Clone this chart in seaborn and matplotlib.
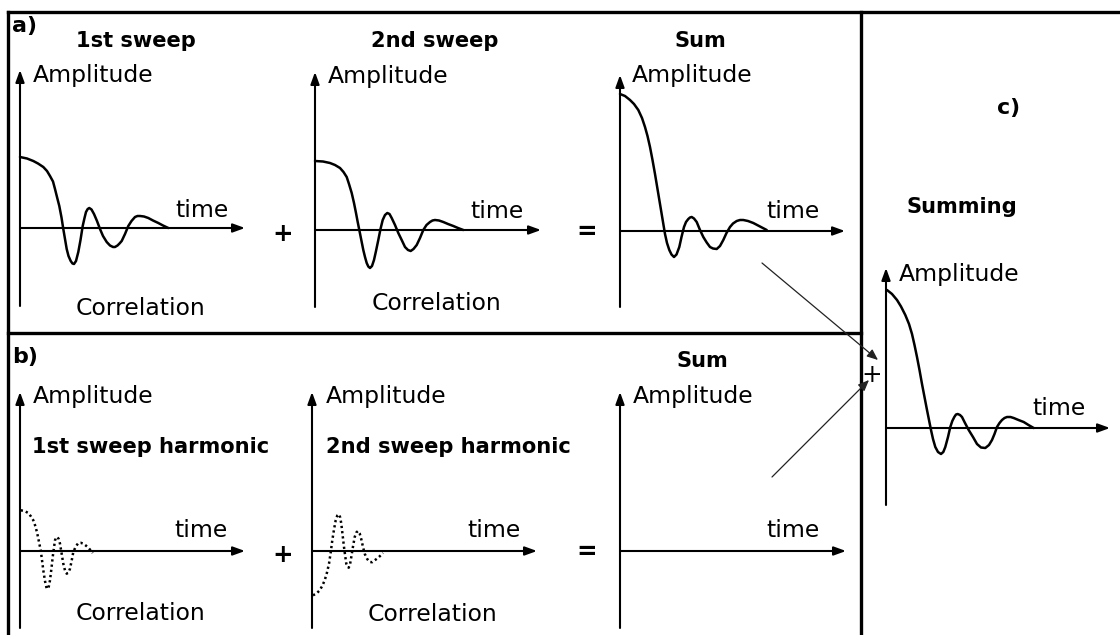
import matplotlib
matplotlib.use("Agg")
import matplotlib.pyplot as plt
import numpy as np
import pandas as pd
import seaborn as sns

# ---------------- data (t = time offset, amp = amplitude) ----
sweep1_t = [0, 7, 13.3, 18, 23.3, 27, 30, 33, 35, 37, 39.3, 41.5, 43.3, 45, 46.7, 48.5, 50.7,
            52.5, 54, 56, 58.3, 60.5, 62.7, 64.5, 66, 67.7, 69.3, 71.5, 74, 77, 80, 83, 86.7,
            90, 93, 95, 97.5, 99.5, 101.7, 105, 108.3, 111.5, 115, 117.5, 120, 124, 128.3,
            133, 138.3, 143, 148.3]
sweep1_amp = [71, 69.5, 67, 64.5, 61, 57, 52, 46.5, 39, 31, 22, 10.5, -1, -11, -21, -28, -33,
              -35.5, -36, -33, -24, -12, 2, 10, 16, 19, 20, 18.5, 14, 7, -1, -8, -14,
              -17.5, -19, -19, -17.5, -15.5, -13, -6, 2, 7, 11, 12, 12, 11.5, 10,
              7.5, 5, 2.5, 0]

sweep2_t = [0, 8, 15, 20, 25, 28.5, 31.7, 34, 36.7, 39, 41, 42.7, 44.3, 46.3, 48.3, 50, 51.7,
            53.3, 55, 57, 59, 61, 63.3, 65.5, 67.7, 70, 72.3, 74.5, 76.7, 80, 83.3, 86.7,
            90, 93, 95.7, 98.5, 101.7, 105, 108.3, 111.5, 115, 117.5, 120, 124, 128.3, 133,
            138.3, 143, 148.3]
sweep2_amp = [69, 68.5, 67, 65, 62, 58, 53, 46, 37, 27, 17, 8, 0, -10, -20, -27, -33,
              -36.5, -38, -36, -30, -21, -10, 1, 10, 15, 17, 16, 12, 5, -3, -10,
              -17, -20, -21, -19, -15, -8, 0, 5, 8, 9.5, 10, 9.5, 8, 6,
              4, 2, 0]

sum_t = [0, 5, 10, 14, 18.3, 22, 25, 27.5, 30, 32.5, 35, 37.5, 40, 42.5, 45, 47, 49.3, 51.5,
         54, 56.5, 59.3, 61.5, 64, 66, 68.3, 70, 71.7, 74, 76.7, 80, 83.3, 86.7, 90, 93,
         96.7, 100, 103.3, 106.5, 110, 113, 116.7, 120, 123.3, 128, 133.3, 140, 146.7]
sum_amp = [137, 135, 131, 127, 121, 113, 104, 95, 84, 71, 57, 42, 27, 12, -3, -12, -19, -23.5,
           -26, -23.5, -16, -6, 4, 9, 12, 13.5, 14, 12.5, 9, 1, -6, -11.5, -16, -17.5,
           -18, -15, -9, -2, 4, 7.5, 10, 11, 11, 10, 8, 4.5, 1]

summing_t = [1, 6, 11, 15, 19.3, 23, 26, 28.5, 31, 33.5, 36, 38.5, 41, 43, 45, 47, 49.3, 52,
             55, 57.3, 59.3, 62, 64.3, 66.3, 68.3, 70, 71.7, 74, 76, 79, 82.7, 87, 91,
             95, 99.3, 103, 106, 108.5, 111, 113.5, 116, 118.5, 121, 124.5, 127.7, 132.5,
             137.7, 142.5, 147.7]
summing_amp = [138, 134, 128, 121.5, 113, 104, 94, 83, 71, 58, 44, 31, 18, 8, -2, -11, -19,
               -24, -26, -24, -19, -9, 1, 7, 11, 13.5, 14, 13, 11, 5, -2, -9, -16,
               -19.5, -20, -17, -12, -6, 1, 5, 8, 10, 11, 11, 10, 8,
               6, 3, 0]

harm1_t = [0.7, 4.5, 8.3, 11, 13.3, 15.5, 17.3, 19, 20.7, 22, 23.3, 25, 26.7, 28.5, 30, 31.5,
           32.7, 34, 35, 36.2, 37.3, 38.7, 40, 41.7, 43.3, 45, 46.7, 48.5, 50, 51.7, 53.3,
           55.8, 58.3, 60.8, 63.3, 65.8, 68.3, 70.5, 72.7]
harm1_amp = [40.7, 40, 38, 34.5, 30.7, 24.5, 17.3, 9, 0.7, -9, -19.3, -30, -37.7, -37, -29.3,
             -17, -6, 3.5, 10.7, 13.5, 14, 12, 7.3, -3, -12.7, -19.5, -22.7, -21.5, -17.7,
             -9.5, -1, 4.5, 8, 8.2, 7.3, 5.5, 3.3, 0.8, -2]

harm2_t = [1, 4.5, 7.7, 10.2, 12.7, 15, 17, 18.7, 20.3, 22, 23.7, 25.3, 27, 28.2, 29.3, 30.6,
           32, 33.2, 34.3, 35.5, 36.7, 38, 39.3, 41, 42.7, 44.3, 46, 47.7, 49.3, 51, 52.7,
           55.2, 57.7, 60.2, 62.7, 65.2, 67.7, 71]
harm2_amp = [-44.3, -42.5, -39.3, -35, -29.3, -21.5, -12.7, -1.5, 10.7, 21.5, 30.7, 35.5, 36.7,
             33.5, 27.3, 16, 4, -5, -12.7, -15.5, -16.7, -13.5, -6, 4.5, 14, 18.5, 20, 17.5,
             11.7, 4, -2.7, -8, -11, -11.2, -9.3, -7.5, -5.3, -2]

# ---------------- labels ------------------------------------------------------
panel_letters = ["a)", "b)", "c)"]
panel_titles = ["1st sweep", "2nd sweep", "Sum", "1st sweep harmonic",
                "2nd sweep harmonic", "Sum", "Summing"]
y_label = "Amplitude"
x_label = "time"
corr_label = "Correlation"
op_plus, op_eq = "+", "="

# ---------------- figure ------------------------------------------------------
sns.set_theme(style="white")
plt.rcParams["font.family"] = ["DejaVu Sans"]

W, H = 1120, 635
fig = plt.figure(figsize=(W / 100, H / 100), dpi=100)
fig.patch.set_facecolor("white")
bg = fig.add_axes([0, 0, 1, 1])
bg.set_xlim(0, W)
bg.set_ylim(H, 0)
bg.axis("off")

INK = "#000000"

# frame lines
frame_lw = 2.4
bg.plot([8, W], [12, 12], color=INK, lw=frame_lw, solid_capstyle="projecting")
bg.plot([8, 8], [12, H], color=INK, lw=frame_lw, solid_capstyle="projecting")
bg.plot([861, 861], [12, H], color=INK, lw=frame_lw, solid_capstyle="projecting")
bg.plot([8, 861], [333, 333], color=INK, lw=frame_lw, solid_capstyle="projecting")

AX_STYLE = "-|>,head_length=0.55,head_width=0.2"


def panel(x0, ytop, ybot, y0, xtip, t=None, amp=None, dotted=False):
    ax = fig.add_axes([x0 / W, (H - ybot) / H, (xtip - x0) / W, (ybot - ytop) / H])
    ax.set_xlim(0, xtip - x0)
    ax.set_ylim(-(ybot - y0), y0 - ytop)
    ax.axis("off")
    ax.patch.set_alpha(0)
    kw = dict(arrowstyle=AX_STYLE, lw=1.5, color=INK, shrinkA=0, shrinkB=0,
              mutation_scale=13)
    ax.annotate("", xy=(0, y0 - ytop), xytext=(0, -(ybot - y0)),
                arrowprops=kw, annotation_clip=False)
    ax.annotate("", xy=(xtip - x0, 0), xytext=(0, 0),
                arrowprops=kw, annotation_clip=False)
    if t is not None:
        df = pd.DataFrame({"t": t, "amp": amp})
        if dotted:
            sns.lineplot(data=df, x="t", y="amp", ax=ax, color=INK, lw=1.8,
                         linestyle=(0, (0.9, 1.2)), sort=False, estimator=None,
                         dash_capstyle="butt", clip_on=False)
        else:
            sns.lineplot(data=df, x="t", y="amp", ax=ax, color=INK, lw=1.8,
                         sort=False, estimator=None, solid_joinstyle="round",
                         solid_capstyle="round", clip_on=False)
    ax.set_xlabel("")
    ax.set_ylabel("")
    return ax


panel(20, 70, 306, 228, 245, sweep1_t, sweep1_amp)
panel(315, 72, 307, 230, 541, sweep2_t, sweep2_amp)
panel(620, 75, 307, 231, 845, sum_t, sum_amp)
panel(20, 392, 628, 551, 245, harm1_t, harm1_amp, dotted=True)
panel(312, 392, 628, 551, 537, harm2_t, harm2_amp, dotted=True)
panel(620, 392, 628, 551, 846)
panel(886, 268, 505, 428, 1110, summing_t, summing_amp)

# ---------------- text sizing (fit widths measured on the picture) ------------
renderer = fig.canvas.get_renderer()


def fit(s, weight, target):
    tt = bg.text(0, 0, s, fontsize=10, fontweight=weight)
    w = tt.get_window_extent(renderer).width
    tt.remove()
    return 10 * target / w


fs_reg = fit(corr_label, "normal", 130)
fs_bold = fit(panel_titles[4], "bold", 246)


def reg(x, y, s):
    bg.text(x, y, s, fontsize=fs_reg, color=INK, ha="left", va="baseline")


def bold(x, y, s, size=None):
    bg.text(x, y, s, fontsize=size or fs_bold, fontweight="bold", color=INK,
            ha="left", va="baseline")


# panel letters
bold(12, 32, panel_letters[0], fs_bold * 1.05)
bold(12, 363, panel_letters[1], fs_bold * 1.05)
bold(997, 114, panel_letters[2], fs_bold * 1.05)

# titles
bold(76, 47, panel_titles[0])
bold(371, 47, panel_titles[1])
bold(675, 47, panel_titles[2])
bold(32, 453, panel_titles[3])
bold(326, 453, panel_titles[4])
bold(676, 367, panel_titles[5])
bold(907, 213, panel_titles[6])

# amplitude labels
for x, y in [(33, 82), (328, 83), (632, 82), (33, 403), (326, 403), (633, 403), (899, 281)]:
    reg(x, y, y_label)

# time labels
for x, y in [(175, 217), (470, 218), (766, 218), (174, 537), (467, 537), (766, 537), (1032, 415)]:
    reg(x, y, x_label)

# correlation labels
for x, y in [(76, 315), (372, 310), (76, 620), (368, 621)]:
    reg(x, y, corr_label)

# operators
fs_op = fs_reg * 1.05
for x, y in [(283, 241), (283, 562)]:
    bg.text(x, y, op_plus, fontsize=fs_op, color=INK, ha="center", va="baseline",
            fontweight="bold")
for x, y in [(587, 239), (587, 559)]:
    bg.text(x, y, op_eq, fontsize=fs_op, color=INK, ha="center", va="baseline",
            fontweight="bold")
bg.text(872, 382, op_plus, fontsize=fs_op, color=INK, ha="center", va="baseline")

# connector arrows to the summing panel
arr = dict(arrowstyle="-|>,head_length=0.6,head_width=0.25", lw=0.9, color="#222222",
           shrinkA=0, shrinkB=0, mutation_scale=11)
bg.annotate("", xy=(878, 360), xytext=(762, 263), arrowprops=arr)
bg.annotate("", xy=(869, 380), xytext=(772, 477), arrowprops=arr)

fig.savefig("out.png", dpi=100, facecolor="white")
